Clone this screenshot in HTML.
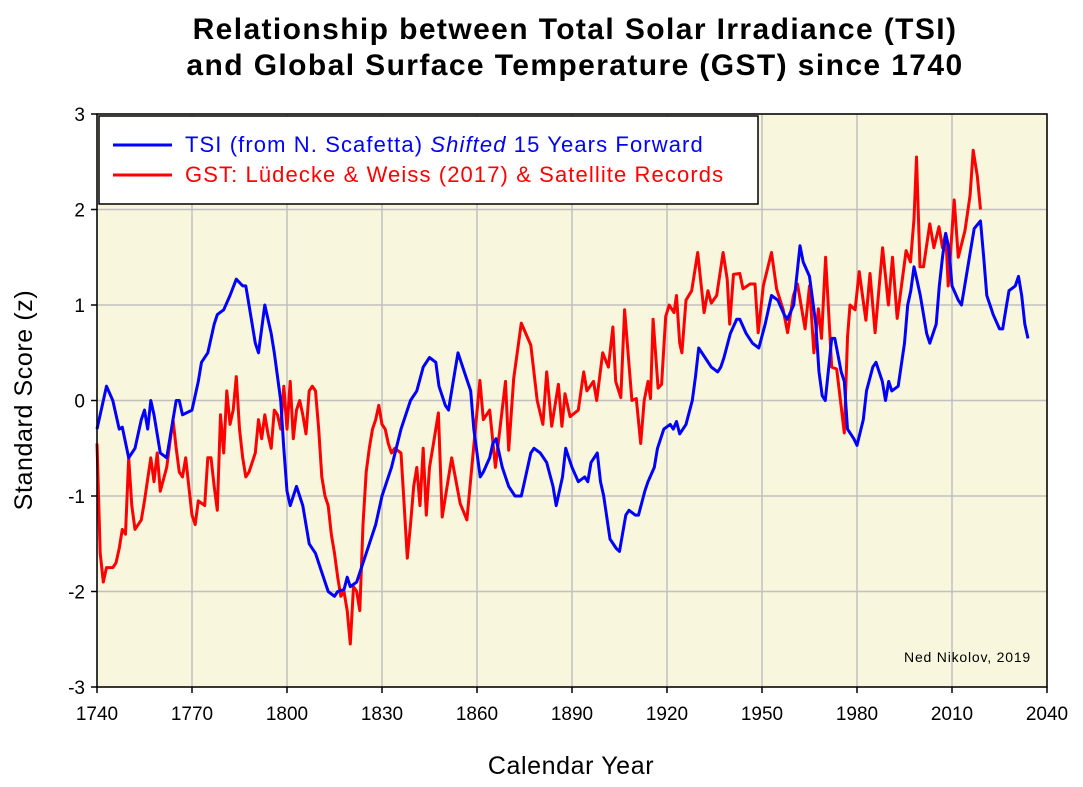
<!DOCTYPE html>
<html><head><meta charset="utf-8"><style>
body{margin:0;background:#fff;}
svg{display:block;font-family:"Liberation Sans",sans-serif;}
</style></head><body>
<svg id="chart" width="1083" height="787">
<text x="575" y="39" text-anchor="middle" font-size="30" font-weight="bold" letter-spacing="1.4">Relationship between Total Solar Irradiance (TSI)</text>
<text x="575" y="75" text-anchor="middle" font-size="30" font-weight="bold" letter-spacing="1.4">and Global Surface Temperature (GST) since 1740</text>
<rect x="97" y="114" width="950" height="573" fill="#f8f6dc"/>
<g id="grid"></g>
<g id="ticks"></g>
<g id="series"></g>
<rect x="97" y="114" width="950" height="573" fill="none" stroke="#000" stroke-width="1.5"/>
<g>
<rect x="99" y="116" width="659" height="88" fill="#fff" stroke="#000" stroke-width="1.5"/>
<line x1="113" y1="145" x2="172" y2="145" stroke="#0000ff" stroke-width="3"/>
<text x="185" y="152" font-size="22" letter-spacing="1.1" fill="#0000ff">TSI (from N. Scafetta) <tspan font-style="italic">Shifted</tspan> 15 Years Forward</text>
<line x1="113" y1="175" x2="172" y2="175" stroke="#ff0000" stroke-width="3"/>
<text x="185" y="182" font-size="22" letter-spacing="1.1" fill="#ff0000">GST: Lüdecke &amp; Weiss (2017) &amp; Satellite Records</text>
</g>
<text x="1031" y="662" text-anchor="end" font-size="14" letter-spacing="0.8">Ned Nikolov, 2019</text>
<text x="571" y="774" text-anchor="middle" font-size="25" letter-spacing="0.6">Calendar Year</text>
<text transform="translate(32,400) rotate(-90)" text-anchor="middle" font-size="25" letter-spacing="0.6">Standard Score (z)</text>
</svg>
<script>
const xTicks=[1740,1770,1800,1830,1860,1890,1920,1950,1980,2010,2040];
const yTicks=[-3,-2,-1,0,1,2,3];
const tsiYears=[1740,1743,1745,1747,1748,1750,1752,1754,1755,1756,1757,1758,1760,1762,1764,1765,1766,1767,1770,1772,1773,1775,1777,1778,1780,1782,1784,1786,1787,1788,1790,1791,1793,1795,1796,1798,1799,1800,1801,1803,1805,1807,1809,1811,1813,1815,1816,1818,1819,1820,1822,1825,1828,1830,1833,1836,1839,1841,1843,1845,1847,1848,1850,1851,1853,1854,1856,1858,1859,1861,1862,1864,1865,1866,1868,1870,1872,1874,1875,1877,1878,1880,1882,1884,1885,1887,1888,1889,1890,1892,1894,1895,1896,1898,1899,1900,1902,1904,1905,1907,1908,1910,1911,1913,1914,1916,1917,1919,1921,1922,1923,1924,1926,1928,1929,1930,1932,1934,1936,1937,1938,1940,1942,1943,1945,1947,1949,1951,1953,1955,1957,1958,1960,1962,1963,1965,1967,1968,1969,1970,1972,1973,1975,1976,1977,1979,1980,1982,1983,1985,1986,1988,1989,1990,1991,1993,1995,1996,1997,1998,1999,2000,2002,2003,2005,2006,2007,2008,2009,2010,2012,2013,2014,2016,2017,2019,2020,2021,2022,2023,2025,2026,2027,2028,2030,2031,2032,2033,2034];
const tsiVals=[-0.3,0.15,0.0,-0.3,-0.28,-0.6,-0.5,-0.2,-0.1,-0.3,0.0,-0.15,-0.55,-0.6,-0.2,0.0,0.0,-0.15,-0.1,0.2,0.4,0.5,0.8,0.9,0.95,1.1,1.27,1.2,1.2,1.0,0.6,0.5,1.0,0.7,0.5,0.0,-0.5,-0.95,-1.1,-0.9,-1.1,-1.5,-1.6,-1.8,-2.0,-2.05,-2.0,-1.98,-1.85,-1.95,-1.9,-1.6,-1.3,-1.0,-0.7,-0.3,0.0,0.1,0.35,0.45,0.4,0.15,-0.05,-0.1,0.3,0.5,0.3,0.1,-0.3,-0.8,-0.75,-0.6,-0.45,-0.4,-0.7,-0.9,-1.0,-1.0,-0.85,-0.55,-0.5,-0.55,-0.65,-0.9,-1.1,-0.8,-0.5,-0.6,-0.7,-0.85,-0.8,-0.85,-0.65,-0.55,-0.85,-1.0,-1.45,-1.55,-1.58,-1.2,-1.15,-1.2,-1.2,-0.95,-0.85,-0.7,-0.5,-0.3,-0.25,-0.3,-0.22,-0.35,-0.25,0.0,0.25,0.55,0.45,0.35,0.3,0.35,0.45,0.7,0.85,0.85,0.7,0.6,0.55,0.8,1.1,1.05,0.9,0.85,1.0,1.62,1.45,1.3,0.8,0.3,0.05,0.0,0.65,0.65,0.3,0.2,-0.3,-0.4,-0.47,-0.2,0.1,0.35,0.4,0.2,0.0,0.2,0.1,0.15,0.6,1.0,1.15,1.4,1.25,1.1,0.7,0.6,0.8,1.2,1.5,1.75,1.6,1.2,1.05,1.0,1.2,1.6,1.8,1.88,1.5,1.1,1.0,0.9,0.75,0.75,0.95,1.15,1.2,1.3,1.1,0.8,0.65];
const gstYears=[1740,1741,1742,1743,1745,1746,1747,1748,1749,1750,1751,1752,1753,1754,1755,1757,1758,1759,1760,1762,1763,1764,1765,1766,1767,1768,1769,1770,1771,1772,1774,1775,1776,1777,1778,1779,1780,1781,1782,1783,1784,1785,1786,1787,1788,1790,1791,1792,1793,1794,1795,1796,1797,1798,1799,1800,1801,1802,1803,1804,1805,1806,1807,1808,1809,1810,1811,1812,1813,1814,1815,1816,1817,1818,1819,1820,1821,1822,1823,1824,1825,1826,1827,1828,1829,1830,1831,1832,1833,1834,1836,1837,1838,1839,1840,1841,1842,1843,1844,1845,1846,1847.8,1849,1852,1854.7,1856.8,1860.9,1862,1864,1865.8,1869,1870,1871.6,1874,1877,1879,1880.8,1882,1883.6,1885.7,1886.8,1887.8,1889.4,1892,1893.7,1894.7,1896.8,1897.8,1899.7,1901.5,1902.9,1903.8,1905.4,1906.6,1908.9,1910.3,1911.7,1912.8,1914,1914.8,1915.6,1917.2,1918.3,1919.6,1920.7,1922.2,1923,1924,1924.7,1926,1927.8,1929.7,1931.7,1932.9,1934,1935.7,1937.7,1939,1939.8,1941,1943,1944,1946.2,1947.8,1948.8,1950.4,1953,1954.6,1956.7,1958.1,1959.9,1961.2,1963.6,1965,1966.4,1967.8,1968.8,1970.1,1972,1973.6,1976,1977,1977.8,1979.4,1980.7,1982.8,1984.1,1985.7,1988.1,1989.9,1991.2,1992.7,1995.5,1996.9,1998,1998.8,1999.9,2001,2003,2004.3,2005.9,2007,2008,2008.8,2010.7,2012,2014.1,2015.7,2016.7,2018,2019];
const gstVals=[-0.45,-1.6,-1.9,-1.75,-1.75,-1.7,-1.55,-1.35,-1.4,-0.6,-1.1,-1.35,-1.3,-1.25,-1.05,-0.6,-0.85,-0.55,-0.95,-0.7,-0.45,-0.2,-0.5,-0.75,-0.8,-0.6,-0.9,-1.2,-1.3,-1.05,-1.1,-0.6,-0.6,-0.9,-1.15,-0.15,-0.55,0.1,-0.25,-0.1,0.25,-0.3,-0.6,-0.8,-0.75,-0.55,-0.2,-0.4,-0.15,-0.35,-0.5,-0.1,-0.15,-0.3,0.15,-0.3,0.2,-0.4,-0.1,0.0,-0.15,-0.35,0.1,0.15,0.1,-0.3,-0.8,-1.0,-1.1,-1.4,-1.6,-1.85,-2.05,-2.0,-2.2,-2.55,-1.95,-2.0,-2.2,-1.3,-0.75,-0.5,-0.3,-0.2,-0.05,-0.25,-0.3,-0.45,-0.55,-0.5,-0.55,-1.1,-1.65,-1.3,-0.9,-0.7,-1.1,-0.5,-1.2,-0.7,-0.5,-0.13,-1.22,-0.6,-1.08,-1.25,0.21,-0.2,-0.1,-0.7,0.2,-0.52,0.23,0.81,0.58,0.0,-0.25,0.3,-0.27,0.17,-0.27,0.07,-0.17,-0.1,0.3,0.1,0.2,0.0,0.5,0.35,0.77,0.2,0.03,0.95,0.0,0.02,-0.45,0.0,0.2,0.02,0.85,0.13,0.17,0.88,1.0,0.92,1.1,0.6,0.5,1.05,1.15,1.55,0.92,1.15,1.02,1.1,1.55,1.27,0.8,1.32,1.33,1.17,1.22,1.22,0.71,1.2,1.55,1.17,0.95,0.71,1.1,1.22,0.75,1.2,0.5,0.96,0.65,1.5,0.35,0.33,-0.34,0.66,1.0,0.95,1.35,0.84,1.33,0.71,1.6,1.0,1.5,0.86,1.57,1.45,1.9,2.55,1.4,1.4,1.85,1.6,1.82,1.6,1.75,1.2,2.1,1.5,1.78,2.15,2.62,2.35,2.0];
const NS='http://www.w3.org/2000/svg';
const X0=97,X1=1047,Y0=687,Y1=114;
function xs(v){return X0+(v-1740)/(2040-1740)*(X1-X0);}
function ys(v){return Y0-(v+3)/6*(Y0-Y1);}
const grid=document.getElementById('grid'),ticks=document.getElementById('ticks'),series=document.getElementById('series');
function mk(tag,attrs,parent){const e=document.createElementNS(NS,tag);for(const k in attrs)e.setAttribute(k,attrs[k]);parent.appendChild(e);return e;}
xTicks.forEach(t=>{
  const g=mk('line',{x1:xs(t),x2:xs(t),y1:Y1,y2:Y0,stroke:'#c0c0c0','stroke-width':1.5},grid);
  
  
  const tk=mk('line',{x1:xs(t),x2:xs(t),y1:Y0,y2:Y0+6,stroke:'#000','stroke-width':1.5},ticks);
  
  
  const l=mk('text',{x:xs(t),y:Y0+33,'text-anchor':'middle','font-size':19},ticks);
  l.textContent=t;
  
  
});
yTicks.forEach(t=>{
  const g=mk('line',{x1:X0,x2:X1,y1:ys(t),y2:ys(t),stroke:'#c0c0c0','stroke-width':1.5},grid);
  
  
  const tk=mk('line',{x1:X0-6,x2:X0,y1:ys(t),y2:ys(t),stroke:'#000','stroke-width':1.5},ticks);
  
  
  const l=mk('text',{x:X0-12,y:ys(t)+7,'text-anchor':'end','font-size':19},ticks);
  l.textContent=t;
  
  
});
function line(years,vals){
  return years.map((y,i)=>(i?'L':'M')+xs(y).toFixed(1)+','+ys(vals[i]).toFixed(1)).join(' ');
}
const gp=mk('path',{d:line(gstYears,gstVals),fill:'none',stroke:'#ff0000','stroke-width':3,'stroke-linejoin':'round'},series);


const tp=mk('path',{d:line(tsiYears,tsiVals),fill:'none',stroke:'#0000ff','stroke-width':3,'stroke-linejoin':'round'},series);


</script>
</body></html>
